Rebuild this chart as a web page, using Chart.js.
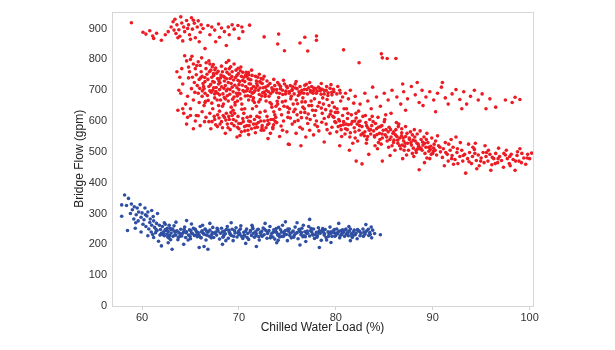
<!DOCTYPE html>
<html>
<head>
<meta charset="utf-8">
<script src="https://cdn.jsdelivr.net/npm/chart.js@4.4.0/dist/chart.umd.min.js"></script>
<style>
  html, body { margin: 0; padding: 0; background: #fff; }
  #wrap { width: 615px; height: 350px; }
</style>
</head>
<body>
<div id="wrap"><canvas id="scatter" width="615" height="350"></canvas></div>
<script>
// axis ticks
const xTicks = [60, 70, 80, 90, 100];
const yTicks = [0, 100, 200, 300, 400, 500, 600, 700, 800, 900];

// red series [load %, flow gpm]
const redTop = [
  [58.9,919],
  [60.1,888],[60.4,882],[60.8,893],[61.1,876],[61.5,885],[61.2,868],[62.4,880],[62.0,862],[62.7,890],
  [63.0,905],[63.2,922],[63.4,930],[63.6,912],[63.8,896],[63.5,884],[63.9,875],[64.1,918],[64.3,905],[64.4,890],
  [64.6,926],[64.8,912],[64.9,880],[65.1,935],[65.2,898],[65.4,917],[65.5,870],[65.7,905],[65.8,925],[66.0,888],
  [66.1,912],[64.2,860],[63.3,895],[64.0,938],[65.0,865],[65.9,857],[66.3,900],[63.7,870],[64.7,900],[65.3,927],
  [66.8,910],[67.2,905],[67.5,895],[67.9,915],[68.2,902],[68.5,890],[68.9,905],[69.3,912],[69.5,898],[69.9,910],
  [70.3,905],[67.0,880],[68.0,872],[69.0,880],[70.0,868],[67.6,857],[68.7,845],[66.5,835],[70.4,890],
  [71.1,911],[72.6,873],[74.1,882],[74.0,850],[74.7,828],[76.3,853],[76.8,872],[77.1,827],[78.0,876],[78.0,862],
  [80.8,831],[84.7,818],[84.8,805],[85.3,803],[86.2,803],[82.4,789]
];
const redUpper = [
  [63.6,760],[63.9,742],[64.2,720],[63.8,700],[64.0,690],[64.4,812],[64.6,795],[64.8,775],[65.0,800],[64.9,760],
  [65.2,742],[65.3,785],[65.5,770],[65.4,725],[65.1,705],[64.7,680],[65.6,750],[65.8,792],[65.7,715],[65.9,735],
  [64.5,655],[65.0,640],[65.3,668],[65.8,690],[64.3,625],[65.6,618],[63.7,635],[65.9,660],[64.1,770],[64.8,740],
  [66.0,780],[66.1,760],[66.2,745],[66.3,722],[66.4,705],[66.5,690],[66.6,770],[66.7,752],[66.8,735],[66.9,712],
  [67.0,698],[67.0,785],[67.1,765],[67.2,742],[67.3,728],[67.4,708],[67.5,688],[67.5,675],[67.6,772],[67.7,755],
  [67.8,738],[67.9,720],[68.0,702],[68.0,685],[68.1,668],[68.2,778],[68.3,760],[68.4,745],[68.5,730],[68.6,715],
  [68.7,698],[68.8,682],[68.9,665],[69.0,770],[69.0,752],[69.1,738],[69.2,722],[69.3,710],[69.4,695],[69.5,678],
  [69.6,660],[69.7,765],[69.8,748],[69.9,732],[70.0,718],[70.0,702],[70.1,688],[70.2,672],[70.3,655],[70.4,758],
  [70.5,742],[70.6,728],[70.7,712],[70.8,698],[70.9,682],[71.0,668],[71.0,750],[71.1,735],[71.2,720],[71.3,705],
  [71.4,690],[71.5,675],[71.6,660],[71.7,745],[71.8,730],[71.9,715],[72.0,700],[72.1,686],[72.2,670],[72.3,738],
  [72.4,722],[72.5,708],[72.6,694],[72.7,680],[72.8,665],[72.9,730],[73.0,715],[66.4,650],[67.2,658],[68.3,648],
  [69.2,645],[70.6,640],[71.8,648],[66.9,795],[68.7,790],[69.5,785],[70.2,775],[71.3,765],[72.1,752],[67.3,700],
  [68.9,725],[69.8,708],[70.4,732],[71.5,712],[68.1,740],[69.3,760],[70.8,745],[67.8,690],[70.0,690],[71.2,680],
  [68.6,672],[72.6,745],[66.5,728],[66.2,680],[67.4,748],
  [73.2,722],[73.4,708],[73.5,695],[73.7,715],[73.9,702],[74.0,725],[74.2,690],[74.3,712],[74.5,700],[74.7,720],
  [74.8,688],[75.0,708],[75.2,696],[75.3,715],[75.5,702],[75.7,688],[75.8,720],[76.0,705],[76.2,695],[76.3,712],
  [76.5,700],[76.7,690],[76.8,716],[77.0,702],[77.2,708],[77.4,694],[77.5,712],[77.7,698],[77.9,705],[78.0,690],
  [78.2,710],[78.4,698],[78.6,703],[78.8,688],[79.0,700],[79.2,692],[79.4,706],[79.6,685],[79.8,695],[80.1,688],
  [80.4,700],[80.7,678],[81.0,690],[81.3,672],[73.6,735],[74.6,732],[75.9,728],[77.3,725],[78.5,722],[79.5,718],
  [80.2,712],[73.1,680],[74.1,676],[75.4,680],[76.6,675],[77.8,672],[79.1,670],[80.5,665],
  [66.35,712],[67.15,693],[67.85,761],[68.45,706],[69.05,687],[69.65,741],[70.15,763],[70.55,695],[71.05,721],[71.65,698],
  [72.15,728],[72.75,710],[66.75,683],[67.45,726],[68.15,749],[68.75,737],[69.35,671],[69.95,754],[70.65,681],[71.35,748],
  [72.45,692],[66.05,740],[66.95,760],[67.65,709],[68.35,688],[69.15,776],[69.75,690],[70.35,716],[70.95,737],[71.75,707],
  [72.35,681],[67.25,776],[68.05,724],[68.85,704],[69.45,733],[70.25,745],[71.15,696],[71.95,742],[72.85,699],[65.45,693],
  [65.95,706],[66.55,664],[67.75,668],[68.55,741],[69.85,665],[70.75,758],[71.45,667],[72.05,662],[73.05,695],[73.35,655],
  [67.35,783],[68.95,796],[65.65,780],[66.15,805],[65.15,810],
  [73.45,702],[74.15,718],[74.85,697],[75.55,711],[76.25,687],[76.95,719],[77.65,690],[78.35,705],[79.05,712],[79.75,703],
  [80.45,691],[73.95,664],[74.65,648],[75.35,672],[76.05,656],[76.75,640],[77.45,665],[78.15,648],[78.95,637],[79.65,660],
  [75.65,630],[76.85,662],[78.65,675],[79.85,645],
  [66.22,698],[66.48,741],[66.83,667],[67.08,718],[67.37,754],[67.62,696],[67.94,731],[68.21,711],[68.49,676],[68.77,758],
  [69.08,702],[69.27,744],[69.58,716],[69.83,681],[70.08,728],[70.42,699],[70.69,749],[70.91,705],[71.23,734],[71.52,693],
  [71.84,722],[72.17,707],[72.48,736],[72.71,687],[66.62,789],[67.52,766],[68.62,769],[69.92,771],[70.98,757],[72.28,724],
  [73.28,689],[73.62,701],[73.91,692],[74.28,705],[74.52,686],[74.91,713],[75.18,690],[75.48,699],[75.83,707],[76.12,683],
  [76.48,692],[76.78,703],[77.08,688],[77.38,699],[77.72,707],[78.08,697],[78.48,687],[78.82,699],[79.18,683],[79.58,693],
  [73.82,648],[74.48,662],[75.22,640],[75.92,668],[76.38,628],[77.22,650],[77.92,634],[78.72,655],[79.42,622],[80.12,640]
];
const redLower = [
  [64.2,640],[64.7,612],[65.0,618],[65.8,617],[65.5,600],[66.2,630],[66.6,612],[66.9,598],[67.0,625],[67.3,640],
  [67.5,605],[67.6,588],[67.8,620],[68.0,632],[68.2,598],[68.3,578],[68.5,612],[68.7,625],[68.8,590],[69.0,605],
  [69.1,572],[69.3,618],[69.4,635],[69.5,585],[69.7,600],[69.9,615],[70.0,575],[70.1,553],[70.2,592],[70.4,608],
  [70.5,625],[70.6,568],[70.8,585],[71.0,556],[71.0,600],[71.2,615],[71.3,575],[71.5,590],[71.6,605],[71.7,562],
  [71.9,580],[72.0,595],[72.1,612],[72.3,570],[72.4,585],[72.6,600],[72.8,578],[72.9,615],[73.0,543],[73.1,592],
  [73.3,605],[73.5,580],[73.7,620],[73.9,595],[74.2,550],[75.2,524],[67.1,575],[68.6,560],[69.8,548],[66.0,585],
  [65.3,575],[64.6,590],[67.9,650],[69.6,652],[71.4,640],[72.7,632],[70.3,638],[66.5,660],[68.4,655],
  [67.45,615],[68.05,590],[68.65,603],[69.25,592],[69.85,580],[70.45,598],[71.05,585],[71.65,578],[72.25,600],[72.95,588],
  [73.55,605],[70.85,612],[69.55,625],[68.95,615],[71.85,615],[72.55,570],[70.25,565],[67.95,610],[66.45,598],[73.25,560],
  [67.22,598],[67.78,582],[68.38,618],[68.88,578],[69.42,605],[69.98,592],[70.58,582],[71.18,598],[71.78,590],[72.38,578],
  [72.98,602],[70.92,570],[69.18,628],[72.18,628],[73.58,588]
];
const redMiddle = [
  [73.2,660],[73.4,645],[73.6,630],[73.8,612],[74.0,655],[74.2,638],[74.4,620],[74.6,600],[74.8,665],[75.0,645],
  [75.1,628],[75.3,610],[75.5,590],[75.6,655],[75.8,638],[76.0,620],[76.1,602],[76.3,580],[76.5,662],[76.6,645],
  [76.8,628],[77.0,610],[77.1,592],[77.3,570],[77.5,650],[77.6,635],[77.8,618],[78.0,600],[78.1,582],[78.3,660],
  [78.5,642],[78.6,625],[78.8,608],[79.0,590],[79.1,572],[79.3,650],[79.5,632],[79.7,615],[79.9,598],[75.1,525],
  [76.4,520],[78.8,532],[74.5,570],[75.9,560],[77.7,555],[76.9,548],[73.5,575],[79.4,560],
  [73.75,598],[74.35,584],[75.05,612],[75.75,598],[76.45,611],[77.15,623],[77.85,588],[78.55,596],[79.25,614],[79.95,628],
  [74.95,565],[76.55,574],[77.35,605],[78.25,568],[80.25,582],[80.85,640],[81.25,625],[81.85,658],[82.35,632],[83.05,618],
  [83.65,640],[84.35,612],[85.15,620],
  [79.6,580],[79.8,612],[80.0,595],[80.1,565],[80.2,628],[80.3,605],[80.5,585],[80.6,550],[80.7,618],[80.8,598],
  [81.0,575],[81.1,640],[81.2,608],[81.3,588],[81.5,562],[81.6,620],[81.7,598],[81.9,578],[82.0,545],[82.1,610],
  [82.2,590],[82.4,570],[82.5,600],[82.6,555],[82.7,582],[82.8,615],[83.0,565],[83.1,595],[83.2,540],[83.3,578],
  [83.5,605],[83.6,558],[83.7,585],[83.9,568],[84.0,548],[84.1,592],[84.2,575],[84.4,530],[84.5,560],[84.6,582],
  [84.8,545],[84.9,570],[85.0,598],[85.1,555],[85.3,535],[85.4,565],[85.5,580],[85.7,548],[85.8,520],[85.9,560],
  [86.0,538],[86.2,572],[86.3,550],[86.4,528],[86.6,545],[86.7,510],[86.8,562],[87.0,535],[87.1,518],[87.2,550],
  [87.4,528],[87.5,505],[87.6,540],[87.8,522],[87.9,555],[88.0,512],[88.2,535],[88.3,498],[88.5,525],[88.6,510],
  [88.8,540],[88.9,505],[89.0,522],[89.2,495],[89.3,515],[89.5,530],[89.6,502],[89.8,518],[90.0,495],[90.1,512],
  [82.7,461],[84.8,470],[82.1,470],[83.4,492],[85.6,488],[81.4,505],[86.9,478],[88.6,442],[80.4,520],[84.3,510],
  [87.3,490],[89.7,478],[86.5,590],[86.8,575],[87.2,582],[87.7,565],[88.1,572],[88.4,558],[88.7,568],[89.1,548],
  [89.4,560],[89.9,545],[90.3,535],[90.5,552],[86.1,505],[87.9,495],[89.4,480],[90.4,490],
  [80.55,572],[81.05,590],[81.45,548],[81.95,600],[82.45,585],[82.95,552],[83.45,570],[83.85,598],[84.25,556],[84.75,585],
  [85.25,548],[85.65,572],[86.15,555],[86.45,582],[86.95,545],[87.35,560],[87.75,530],[88.15,548],[88.55,518],[88.95,532],
  [89.35,540],[89.75,508],[90.15,525],[83.15,528],[84.05,520],[85.45,515],[86.85,522],[88.05,485],[89.15,465],[82.25,535],
  [81.75,528],[80.95,558],[84.55,540],[85.95,530],[87.05,505],[88.45,510],[89.85,492],[90.25,505],[86.25,595],[85.05,605],
  [83.75,615],
  [80.38,600],[80.78,588],[81.18,572],[81.58,590],[81.98,565],[82.38,598],[82.78,560],[83.18,585],[83.58,572],[83.98,552],
  [84.38,580],[84.78,558],[85.18,572],[85.58,540],[85.98,565],[86.38,538],[86.78,552],[87.18,528],[87.58,545],[87.98,538],
  [88.38,528],[88.78,512],[89.18,528],[89.58,515],[90.08,502],[84.68,525],[83.28,550],[86.58,520],[88.28,505],[82.08,625]
];
const redTail = [
  [90.6,520],[90.8,500],[91.0,482],[91.1,510],[91.3,530],[91.5,492],[91.6,470],[91.8,505],[92.0,488],[92.1,515],
  [92.3,475],[92.5,498],[92.6,462],[92.8,485],[93.0,505],[93.1,470],[93.3,492],[93.4,431],[93.6,478],[93.8,498],
  [94.0,462],[94.1,485],[94.3,508],[94.5,472],[94.7,490],[94.8,455],[95.0,480],[95.2,498],[95.3,465],[95.5,485],
  [95.7,470],[95.9,492],[96.1,458],[96.3,478],[96.5,495],[96.7,465],[96.9,485],[97.1,472],[97.3,450],[97.5,490],
  [97.7,478],[97.9,462],[98.1,492],[98.3,475],[98.5,440],[98.7,488],[98.9,470],[99.2,495],[99.4,480],[99.6,460],
  [99.8,492],[100.0,478],[100.2,496],[91.9,540],[93.7,525],[95.4,520],[96.8,512],[92.4,548],[94.4,528],[97.6,505],
  [99.0,510],[91.2,455],[96.0,440],[98.0,455],
  [90.75,515],[91.35,498],[91.95,478],[92.55,510],[93.15,488],[93.75,468],[94.35,495],[94.95,470],[95.55,498],[96.15,482],
  [96.75,478],[97.35,495],[97.95,485],[98.55,470],[99.15,465],[99.75,480],[91.65,525],[92.85,530],[94.15,515],[95.75,505],
  [92.15,460],[94.55,445],[96.45,462],[98.75,500]
];
const redSparse = [
  [81.5,700],[82.0,680],[82.5,655],[83.0,690],[83.3,665],[83.8,710],[84.2,678],[84.6,648],[85.0,690],[85.4,668],
  [85.8,700],[86.3,678],[86.7,655],[87.0,695],[87.4,672],[87.8,712],[88.2,685],[88.6,660],[88.9,700],[89.3,678],
  [89.7,695],[90.1,668],[90.5,690],[90.9,710],[91.3,675],[91.6,655],[92.0,688],[92.4,702],[92.8,670],[93.2,695],
  [93.5,655],[93.9,680],[94.3,700],[94.7,668],[95.1,688],[95.5,640],[95.9,672],[96.5,645],[97.5,668],[98.5,677],
  [99.0,670],[98.2,660],[93.0,640],[90.3,630],[89.0,650],[87.2,635],[85.7,625],[86.9,720],[88.4,725],[91.0,725]
];

// blue series
const blueHook = [
  [58.2,360],[58.6,349],[57.9,328],[58.4,326],[58.9,331],[59.2,322],[59.5,318],[59.0,312],[59.8,329],[60.3,318],
  [60.6,305],[57.9,291],[58.8,300],[59.4,296],[59.9,288],[60.2,280],[60.5,292],[60.8,271],[61.0,262],[60.4,258],
  [60.7,250],[61.2,276],[61.5,268],[61.3,255],[60.1,265],[59.6,276],[58.5,245],[59.3,252],[59.9,240],[61.6,300],
  [61.0,310],[60.0,302],[61.8,262],[62.1,258],[61.9,248],[62.3,270],[62.4,245],[61.4,238],[60.6,228],[61.1,232],
  [62.0,236],[62.6,252],[62.8,262],[63.0,248],[63.3,243],
  [59.15,282],[59.65,305],[60.35,296],[60.85,282],[61.15,290],[61.45,248],[60.95,240],[59.35,270]
];
const blueBand = [
  [62.2,240],[62.3,228],[62.5,246],[62.6,233],[62.8,220],[62.9,252],[63.0,237],[63.2,226],[63.3,260],[63.4,231],
  [63.6,244],[63.7,215],[63.8,238],[64.0,249],[64.1,227],[64.2,236],[64.4,256],[64.5,222],[64.6,241],[64.8,230],
  [64.9,247],[65.0,218],[65.2,235],[65.3,252],[65.4,229],[65.6,242],[65.7,225],[65.8,238],[66.0,258],[66.1,221],
  [66.2,244],[66.4,233],[66.5,250],[66.6,214],[66.8,239],[66.9,227],[67.0,246],[67.2,232],[67.3,255],[67.4,222],
  [67.6,240],[67.7,230],[67.8,248],[68.0,217],[68.1,236],[68.2,252],[68.4,226],[68.5,243],[68.6,234],[68.8,258],
  [68.9,220],[69.0,240],[69.2,229],[69.3,249],[69.4,212],[69.6,237],[69.7,254],[69.8,224],[70.0,244],[70.1,232],
  [70.2,260],[70.4,219],[70.5,239],[70.6,227],[70.8,250],[70.9,235],[71.0,216],[71.2,245],[71.3,229],[71.4,256],
  [71.6,223],[71.7,241],[71.8,234],[72.0,249],[72.1,214],[72.2,238],[72.4,226],[72.5,253],[72.6,231],[72.8,244],
  [72.9,220],[73.0,240],[73.2,258],[73.3,228],[73.4,236],[73.6,247],[73.7,217],[73.8,242],[74.0,230],[74.1,255],
  [74.2,224],[74.4,239],[74.5,262],[74.6,226],[74.8,245],[74.9,232],[75.0,212],[75.2,250],[75.3,236],[75.4,221],
  [75.6,243],[75.7,229],[75.8,256],[76.0,238],[76.1,218],[76.2,247],[76.4,231],[76.5,252],[76.6,225],[76.8,241],
  [76.9,209],[77.0,235],[77.2,258],[77.3,227],[77.4,244],[77.6,233],[77.7,250],[77.8,219],[78.0,239],[78.1,228],
  [78.2,254],[78.4,236],[78.5,213],[78.6,245],[78.8,230],[78.9,248],[79.0,222],[79.2,241],[79.3,234],[79.4,256],
  [79.6,226],[79.7,243],[79.8,238],[80.0,229],[80.1,250],[80.2,235],[80.4,221],[80.5,244],[80.6,232],[80.8,239],
  [80.9,226],[81.0,247],[81.2,236],[81.3,228],[81.4,243],[81.6,234],[81.7,222],[81.8,240],[82.0,231],[82.1,237],
  [82.3,245],[82.5,228],[82.6,236],[82.8,250],[82.9,240],[83.0,233],[83.1,264],[83.2,244],[83.4,229],[83.5,238],
  [83.7,221],[83.8,246],[84.0,235],[84.6,231],
  [62.1,232],[62.7,242],[63.5,230],[64.3,241],[65.1,236],[65.9,229],[66.7,242],[67.5,236],[68.3,241],[69.1,233],
  [69.9,238],[70.7,243],[71.5,236],[72.3,231],[73.1,245],[73.9,238],[74.7,234],[75.5,240],[76.3,242],[77.1,236],
  [77.9,231],[78.7,240],[79.5,236],[80.3,242],[81.1,233],[81.9,246],[62.4,248],[63.9,226],[65.5,248],[67.1,224],
  [68.7,248],[70.3,225],[71.9,247],[73.5,224],[75.1,243],[76.7,228],[78.3,244],[79.9,226],[81.5,250],[66.3,237],
  [70.0,231],[74.3,247],[77.5,241],[80.7,247],
  [62.25,236],[62.85,229],[63.45,241],[63.95,234],[64.55,238],[65.05,244],[65.65,232],[66.15,240],[66.65,230],[67.25,238],
  [67.85,243],[68.45,231],[69.05,237],[69.55,244],[70.05,236],[70.55,230],[71.15,240],[71.75,228],[72.35,242],[72.95,235],
  [73.55,239],[74.15,232],[74.65,241],[75.25,229],[75.85,235],[76.45,238],[77.05,243],[77.65,230],[78.25,237],[78.85,234],
  [79.45,240],[80.05,237],[80.65,236],[81.25,241],[81.85,230],[82.45,242],[83.05,239],[83.55,232],
  [62.65,224],[63.15,250],[63.75,222],[64.35,248],[64.95,226],[65.45,250],[66.05,222],[66.55,248],[67.15,221],[67.75,252],
  [68.35,223],[68.95,246],[69.45,226],[70.15,250],[70.85,222],[71.45,251],[72.05,225],[72.65,249],[73.25,221],[73.85,251],
  [74.45,226],[75.05,250],[75.65,223],[76.25,249],[76.85,225],[77.45,251],[78.05,223],[78.65,251],[79.25,226],[79.85,248],
  [80.45,228],[81.05,250],[81.65,227],[82.25,248],[82.85,226],[83.35,249]
];
const blueOutliers = [
  [62.0,195],[63.1,184],[65.9,190],[66.4,193],[66.8,184],[71.8,193],[78.3,190],[67.0,268],[64.6,277],[77.3,281],
  [74.8,273],[76.0,270],[63.5,272],[69.2,270],[72.7,268],[80.3,268],[61.2,222],[61.7,210],[62.7,205],[64.3,200],
  [68.3,200],[70.7,203],[73.9,205],[76.3,198],[79.5,206],[81.5,212],[82.2,218],[62.4,265],[65.1,266],
  [61.55,245],[61.85,230],[62.95,215],[64.75,214],[66.25,262],[68.65,212],[71.35,262],[74.05,213],[76.65,262],[79.05,214],
  [81.35,258],[83.65,256]
];

const toPts = (arr) => arr.map(p => ({ x: p[0], y: p[1] }));
const redPts = toPts([].concat(redTop, redUpper, redLower, redMiddle, redTail, redSparse));
const bluePts = toPts([].concat(blueHook, blueBand, blueOutliers));

const frame = {
  id: "frame",
  afterDraw(chart) {
    const a = chart.chartArea;
    const c = chart.ctx;
    c.save();
    c.strokeStyle = "#d6d6d6";
    c.lineWidth = 1;
    c.strokeRect(Math.round(a.left) + 0.5, Math.round(a.top) + 0.5,
                 Math.round(a.right - a.left), Math.round(a.bottom - a.top));
    c.restore();
  }
};

const ctx = document.getElementById("scatter").getContext("2d");
new Chart(ctx, {
  type: "scatter",
  data: {
    datasets: [
      { data: redPts, backgroundColor: "#ec1c24", borderWidth: 0, pointRadius: 1.8 },
      { data: bluePts, backgroundColor: "#2f4fa3", borderWidth: 0, pointRadius: 1.8 }
    ]
  },
  options: {
    responsive: false,
    animation: false,
    layout: { padding: { left: 72, top: 7, right: 82, bottom: 15 } },
    plugins: { legend: { display: false }, tooltip: { enabled: false } },
    scales: {
      x: {
        type: "linear",
        min: 56.9,
        max: 100.35,
        afterBuildTicks: (s) => { s.ticks = xTicks.map(v => ({ value: v })); },
        afterFit: (s) => { s.height = 29; },
        grid: { drawOnChartArea: false, drawTicks: true, tickLength: 4, color: "#d0d0d0" },
        border: { display: false },
        ticks: { color: "#333", font: { family: "Liberation Sans", size: 11 }, padding: 1 },
        title: { display: true, text: "Chilled Water Load (%)", color: "#222",
                 font: { family: "Liberation Sans", size: 12 }, padding: { top: 0, bottom: 0 } }
      },
      y: {
        min: 0,
        max: 955,
        afterBuildTicks: (s) => { s.ticks = yTicks.map(v => ({ value: v })); },
        afterFit: (s) => { s.width = 40; },
        grid: { display: false, drawTicks: false },
        border: { display: false },
        ticks: { color: "#333", font: { family: "Liberation Sans", size: 11 }, padding: 5 },
        title: { display: true, text: "Bridge Flow (gpm)", color: "#222",
                 font: { family: "Liberation Sans", size: 12 }, padding: { top: 0, bottom: 2 } }
      }
    }
  },
  plugins: [frame]
});
</script>
</body>
</html>
